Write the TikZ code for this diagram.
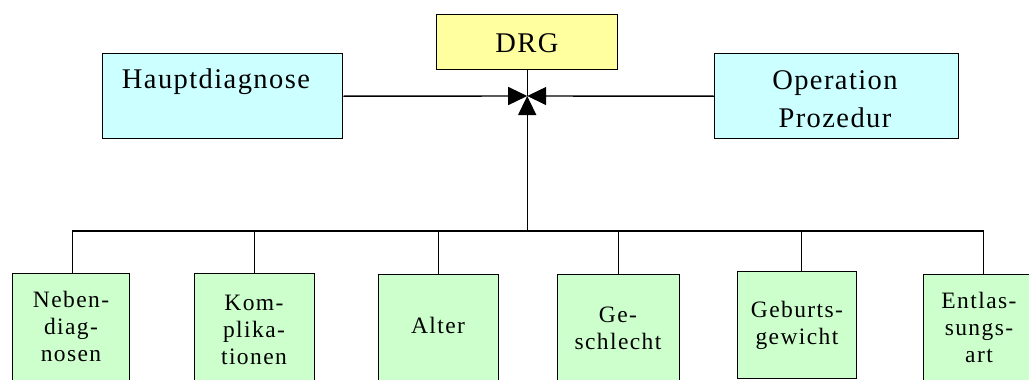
\documentclass[tikz,border=0pt]{standalone}
\usepackage{fontspec}
\setmainfont{Liberation Serif}
\newfontfamily\topfont[LetterSpace=5]{Liberation Serif}
\newfontfamily\botfont[LetterSpace=6]{Liberation Serif}
\usetikzlibrary{arrows.meta}
\definecolor{drgyellow}{RGB}{255,255,160}
\definecolor{mainblue}{RGB}{204,255,255}
\definecolor{sidegreen}{RGB}{204,255,204}
\tikzset{
  boxbase/.style={draw=black, line width=1.4pt, inner sep=0pt, anchor=north west},
  drgbox/.style={boxbase, fill=drgyellow},
  mainbox/.style={boxbase, fill=mainblue},
  sidebox/.style={boxbase, fill=sidegreen},
  toptext/.style={inner sep=0pt, align=center, font=\topfont\fontsize{28.5}{38}\selectfont},
  bottext/.style={inner sep=0pt, align=center, font=\botfont\fontsize{23.5}{27}\selectfont},
  wire/.style={line width=1.4pt},
  tip/.style={wire, -{Triangle[length=19pt,width=18pt]}},
}
\begin{document}
\begin{tikzpicture}[x=1pt,y=-1pt]
\useasboundingbox (0,0) rectangle (1029,380);
\clip (0,0) rectangle (1029,380);
\fill[white] (0,0) rectangle (1029,380);

% top row
\node[drgbox, minimum width=181pt, minimum height=55pt] (drg) at (436,14) {};
\node[toptext, anchor=base] (drgt) at (527,52) {DRG};
\node[mainbox, minimum width=240pt, minimum height=85pt] (haupt) at (102,53) {};
\node[toptext, anchor=base] (hauptt) at (216,88) {Hauptdiagnose};
\node[mainbox, minimum width=244pt, minimum height=85pt] (op) at (714,53) {};
\node[toptext] (opt) at (835,99) {Operation\\Prozedur};

% bottom row
\node[sidebox, minimum width=117pt, minimum height=140pt] (neben) at (12,273) {};
\node[bottext] (nebent) at (71,326) {Neben-\\diag-\\nosen};
\node[sidebox, minimum width=120pt, minimum height=140pt] (komp) at (194,273) {};
\node[bottext] (kompt) at (254,330) {Kom-\\plika-\\tionen};
\node[sidebox, minimum width=120pt, minimum height=140pt] (alter) at (378,274) {};
\node[bottext, anchor=base] (altert) at (438,333) {Alter};
\node[sidebox, minimum width=122pt, minimum height=140pt] (gesch) at (557,274) {};
\node[bottext] (gescht) at (618,328) {Ge-\\schlecht};
\node[sidebox, minimum width=119pt, minimum height=107pt] (geburt) at (737,271) {};
\node[bottext] (geburtt) at (797,325) {Geburts-\\gewicht};
\node[sidebox, minimum width=120pt, minimum height=140pt] (entl) at (923,274) {};
\node[bottext] (entlt) at (979,327) {Entlas-\\sungs-\\art};

% junctions below the DRG box
\coordinate (hub) at (drg.south |- 0,96);
\coordinate (bus) at (drg.south |- 0,231);

% connectors
\draw[wire] (drg.south) -- (hub);
\draw[tip] (haupt.east) -- (hub);
\draw[tip] (op.west) -- (hub);
\draw[tip] (bus) -- (hub);
\draw[wire] ([xshift=1.5pt]neben.north) -- ([xshift=1.5pt]neben.north |- bus)
  -- (entl.north |- bus) -- (entl.north);
\draw[wire] (komp.north) -- (komp.north |- bus);
\draw[wire] (alter.north) -- (alter.north |- bus);
\draw[wire] (gesch.north) -- (gesch.north |- bus);
\draw[wire] ([xshift=4.5pt]geburt.north) -- ([xshift=4.5pt]geburt.north |- bus);
\end{tikzpicture}
\end{document}
